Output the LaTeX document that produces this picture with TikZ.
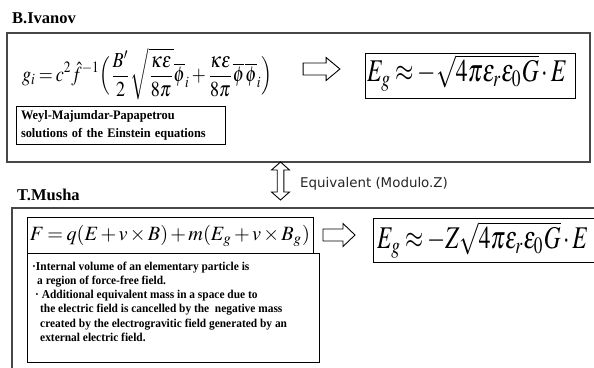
\documentclass[tikz,border=0pt]{standalone}
\usepackage{mathptmx}
\usepackage[no-math]{fontspec}
\setmainfont{Liberation Serif}
\newfontfamily\tahomafont{DejaVu Sans}
\newfontfamily\notefont[FakeStretch=0.95]{Liberation Serif}
\usepackage{graphicx}
\newcommand{\tightmath}{\thinmuskip=1mu\medmuskip=2mu\thickmuskip=3mu}
\begin{document}
\begin{tikzpicture}[x=1pt,y=-1pt,
  outerbox/.style={draw=black!72, line width=1.2pt, inner sep=0pt},
  innerbox/.style={draw=black, line width=0.9pt, inner sep=0pt},
  authorlabel/.style={font=\fontsize{16.5}{20}\selectfont\bfseries, anchor=base west, inner sep=0pt},
  noteline/.style={font=\notefont\fontsize{12}{14}\selectfont\bfseries, anchor=base west, inner sep=0pt},
  rarrow/.pic={\draw[line width=0.9pt, line join=miter] (-16,-6) -- (4,-6) -- (4,-11.5) -- (16,0) -- (4,11.5) -- (4,6) -- (-16,6) -- cycle;},
  udarrow/.pic={\draw[line width=0.9pt, line join=miter] (0,-19) -- (9,-11) -- (3.3,-11) -- (3.3,11) -- (9,11) -- (0,19) -- (-9,11) -- (-3.3,11) -- (-3.3,-11) -- (-9,-11) -- cycle;}
]
\useasboundingbox (0,0) rectangle (594,367);
\clip (0,0) rectangle (594,367);
\fill[white] (0,0) rectangle (594,367);

% outer boxes
\node[outerbox, minimum width=583pt, minimum height=129pt] (topbox) at (298.5,97.5) {};
\draw[black!72, line width=1.2pt] (12,380) -- (12,208) -- (620,208);

% author labels
\node[authorlabel] (ivanov) at (12,23) {B.Ivanov};
\node[authorlabel] (musha) at (17,200) {T.Musha};

% Ivanov formula
\node[inner sep=0pt, anchor=west] (gi) at (22,74) {\resizebox*{250pt}{52pt}{$\tightmath\displaystyle g_i=c^2\hat f^{-1}\Bigl(\frac{B'}{2}\sqrt{\frac{\kappa\varepsilon}{8\pi}}\overline{\phi}_i+\frac{\kappa\varepsilon}{8\pi}\overline{\phi}\,\overline{\phi}_i\Bigr)$}};

\pic (arr1) at (321.5,69) [xscale=1.15] {rarrow};

\node[innerbox, minimum width=210pt, minimum height=45pt] (eg1) at (470,75.5) {};
\node[inner sep=0pt] (eg1f) at (467,73) {\resizebox*{200pt}{36pt}{$\tightmath E_g\approx-\sqrt{4\pi\varepsilon_r\varepsilon_0G}\cdot E$}};

\node[innerbox, minimum height=38pt, inner xsep=5pt, inner ysep=0pt, text width=199pt, align=left, font=\notefont\fontsize{13}{18}\selectfont\bfseries] (weyl) at (120.5,125) {Weyl-Majumdar-Papapetrou\\solutions of the Einstein equations};

% equivalence
\pic (arr2) at (280.5,181) {udarrow};
\node[font=\tahomafont\fontsize{13.4}{16}\selectfont, anchor=west, inner sep=0pt, text=black!85] (equiv) at (300,184) {Equivalent (Modulo.Z)};

% Musha
\node[innerbox, minimum width=286pt, minimum height=36pt] (fbox) at (170,235) {};
\node[inner sep=0pt] (ff) at (170,236) {\resizebox{280pt}{!}{$\tightmath F=q(E+v\times B)+m(E_g+v\times B_g)$}};
\node[innerbox, minimum width=292pt, minimum height=109pt] (notes) at (173,307.5) {};
\foreach \i/\x/\y/\t in {
  1/32/270/{·Internal volume of an elementary particle is},
  2/37/284/{a region of force-free field.},
  3/35/298/{· Additional equivalent mass in a space due to},
  4/40/312/{the electric field is cancelled by the\ \ negative mass},
  5/40/327/{created by the electrogravitic field generated by an},
  6/40/341/{external electric field.}}
  \node[noteline] (line\i) at (\x,\y) {\t};

\pic (arr3) at (339,235) {rarrow};

\draw[black, line width=0.9pt] (620,218) -- (373,218) -- (373,262) -- (620,262);
\node[inner sep=0pt, anchor=west] (eg2) at (377,240) {\resizebox*{211pt}{36pt}{$\tightmath E_g\approx-Z\sqrt{4\pi\varepsilon_r\varepsilon_0G}\cdot E$}};
\end{tikzpicture}
\end{document}
